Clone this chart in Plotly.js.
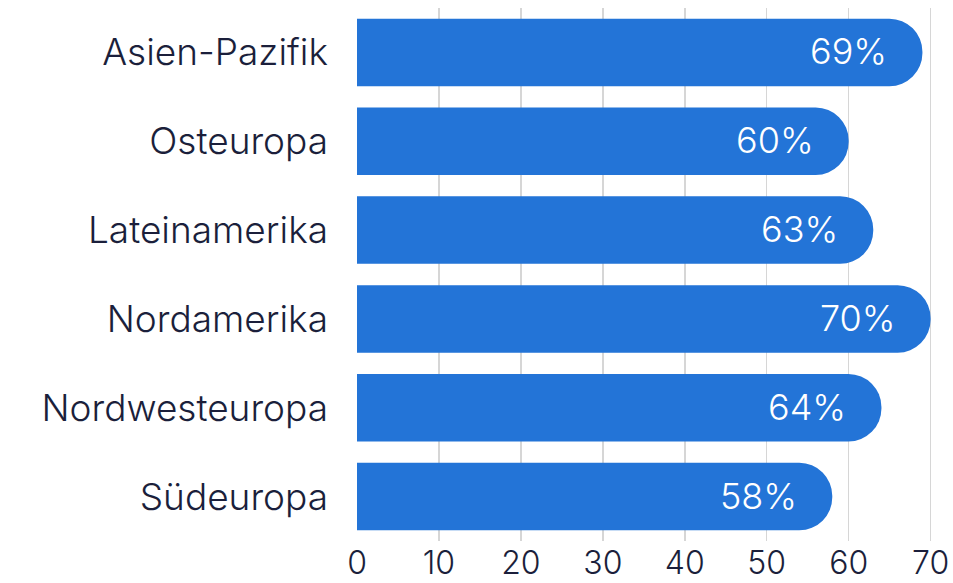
<!DOCTYPE html>
<html><head><meta charset="utf-8">
<script src="https://cdn.plot.ly/plotly-3.0.1.min.js"></script>
<style>html,body{margin:0;padding:0;background:#fff}#c{width:953px;height:583px}</style>
</head><body><div id="c"></div>
<script>
const regions = ["Asien-Pazifik","Osteuropa","Lateinamerika","Nordamerika","Nordwesteuropa","Südeuropa"];
const shares = [69,60,63,70,64,58];
const xTicks = [0,10,20,30,40,50,60,70];

const navy = "#1b1f3b";
const blue = "#2374d7";
const fam = "Inter, sans-serif";

const trace = {
  type: "bar", orientation: "h",
  y: regions, x: shares,
  marker: {color: blue, cornerradius: 34},
  hoverinfo: "none"
};
const annotations = regions.map((r,i)=>({
  x: shares[i], y: r, xref: "x", yref: "y",
  text: shares[i] + "%", showarrow: false,
  xanchor: "right", xshift: -33, yshift: 1,
  font: {family: fam, size: 36, color: "#ffffff", weight: 300}
}));
const layout = {
  width: 953, height: 583,
  margin: {l: 357, r: 6, t: 8, b: 42},
  paper_bgcolor: "#fff", plot_bgcolor: "#fff",
  bargap: 0.24,
  showlegend: false,
  xaxis: {
    range: [0, 72], tickvals: xTicks, ticktext: xTicks.map(String),
    showgrid: true, gridcolor: "#d6d6d6", gridwidth: 1.5,
    zeroline: false, showline: false,
    tickfont: {family: fam, size: 32, color: navy, weight: 300},
    ticks: "", ticklabelstandoff: 0
  },
  yaxis: {
    autorange: "reversed", showgrid: false, zeroline: false, showline: false,
    tickfont: {family: fam, size: 37, color: navy, weight: 300},
    ticks: "", ticklabelstandoff: 28
  },
  annotations: annotations
};
Plotly.newPlot("c", [trace], layout, {staticPlot: true});
</script></body></html>
